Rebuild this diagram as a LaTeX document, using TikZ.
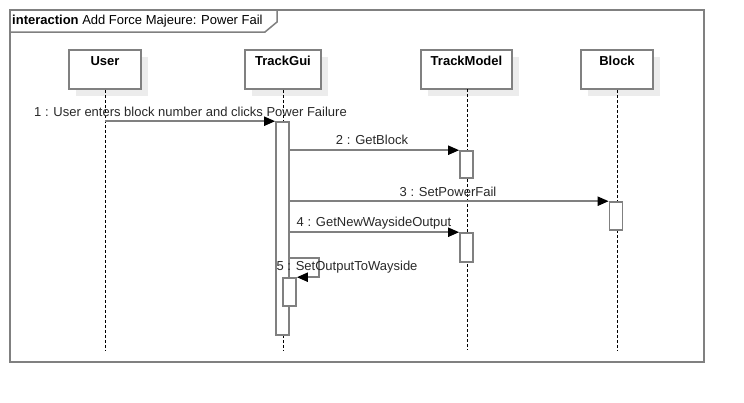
\documentclass[tikz,border=0pt]{standalone}
\usepackage{fontspec}
\setmainfont{Liberation Sans}
\usetikzlibrary{arrows.meta,calc}
\definecolor{frameg}{RGB}{128,128,128}
\definecolor{shadowg}{RGB}{236,236,236}
\definecolor{txt}{RGB}{40,40,40}
\tikzset{
  lbox/.style={draw=frameg, line width=1.6pt, fill=white, minimum width=72pt, minimum height=39pt, inner sep=0pt},
  shadowbox/.style={fill=shadowg, draw=none, minimum width=72pt, minimum height=39pt, inner sep=0pt},
  lname/.style={font=\fontsize{13}{15}\selectfont\bfseries, anchor=north, inner sep=0pt, text=black},
  lifeline/.style={draw=black, line width=0.9pt, dash pattern=on 3pt off 2pt},
  actbox/.style={draw=frameg, line width=1.6pt, fill=white, minimum width=13pt, inner sep=0pt},
  msg/.style={draw=frameg, line width=2pt, -{Triangle[length=11pt,width=9pt,color=black]}},
  mlabel/.style={font=\fontsize{13}{15}\selectfont, text=txt, inner sep=0pt},
}
\begin{document}
\begin{tikzpicture}[x=1pt,y=-1pt]
\useasboundingbox (0,0) rectangle (744,402);
% frame
\draw[frameg, line width=1.8pt] (10,10) rectangle (704,362);
\draw[frameg, line width=1.5pt, fill=white] (10,10) -- (277,10) -- (277,22) -- (265,32) -- (10,32) -- cycle;
\node[anchor=west, inner sep=0pt, font=\fontsize{13}{15}\selectfont, text=black] (ftitle) at (12,21) {\textbf{interaction} Add Force Majeure: Power Fail};
% shadows
\node[shadowbox] (shu) at (112,76.5) {};
\node[shadowbox, minimum width=76pt] (shg) at (290,76.5) {};
\node[shadowbox, minimum width=91pt] (shm) at (473.5,76.5) {};
\node[shadowbox] (shb) at (624,76.5) {};
% lifeline boxes
\node[lbox] (user) at (105,69.5) {};
\node[lbox, minimum width=76pt] (gui) at (283,69.5) {};
\node[lbox, minimum width=91pt] (model) at (466.5,69.5) {};
\node[lbox] (block) at (617,69.5) {};
\node[lname] (userl) at ([yshift=-7pt]user.north) {User};
\node[lname] (guil) at ([yshift=-7pt]gui.north) {TrackGui};
\node[lname] (modell) at ([yshift=-7pt]model.north) {TrackModel};
\node[lname] (blockl) at ([yshift=-7pt]block.north) {Block};
% lifeline ends
\coordinate (uend) at (105,350);
\coordinate (gend) at (283,350);
\coordinate (mend) at (467,350);
\coordinate (bend) at (617,350);
\draw[lifeline] (user.south) -- (uend);
\draw[lifeline] (gui.south) -- (gend);
\draw[lifeline] (467,89) -- (mend);
\draw[lifeline] (block.south) -- (bend);
% activations
\node[actbox, minimum height=213pt] (a1) at (282.5,228.5) {};
\node[actbox, minimum height=27pt] (m1) at (466.5,164.5) {};
\node[actbox, minimum height=28pt] (b1) at (616,216) {};
\node[actbox, minimum height=29pt] (m2) at (466.5,247.5) {};
\node[actbox, minimum height=28pt] (a2) at (289.5,292) {};
% messages
\draw[msg] (user.south |- a1.north) -- (a1.north west);
\node[mlabel] (l1) at (190.5,112) {1 : User enters block number and clicks Power Failure};
\draw[msg] (a1.east |- m1.north) -- (m1.north west);
\node[mlabel] (l2) at (372,140) {2 : GetBlock};
\draw[msg] (a1.east |- b1.north) -- (b1.north west);
\node[mlabel] (l3) at (448,191.5) {3 : SetPowerFail};
\draw[msg] (a1.east |- m2.north) -- (m2.north west);
\node[mlabel] (l4) at (374,223) {4 : GetNewWaysideOutput};
\coordinate (s1) at (289,258);
\draw[msg] (s1) -- (319,258) |- (a2.north east);
\node[mlabel] (l5) at (347,267) {5 : SetOutputToWayside};
\end{tikzpicture}
\end{document}
